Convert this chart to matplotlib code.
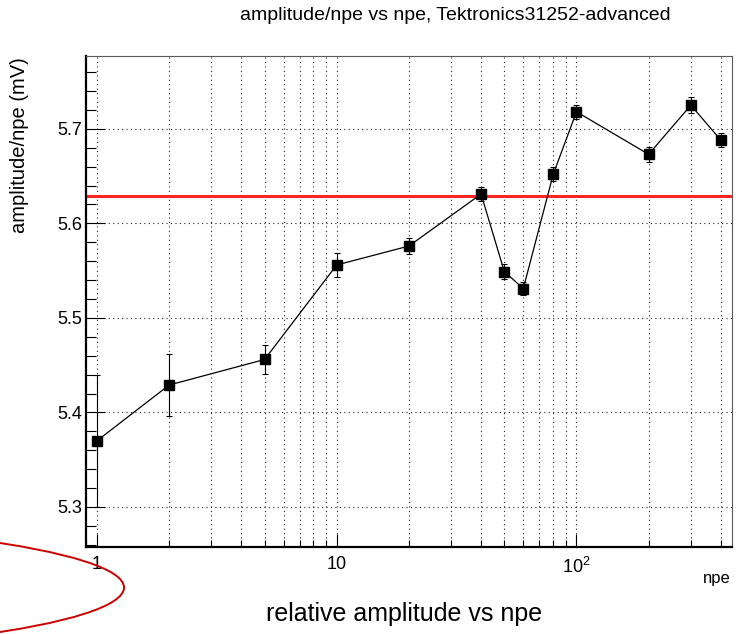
import numpy as np
import matplotlib
matplotlib.use("Agg")
import matplotlib.pyplot as plt
from matplotlib.patches import Ellipse
from matplotlib.ticker import FixedLocator, FixedFormatter, LogLocator, MultipleLocator, NullFormatter

plt.rcParams["font.family"] = ["Liberation Sans", "DejaVu Sans"]
plt.rcParams["mathtext.fontset"] = "custom"
plt.rcParams["mathtext.rm"] = "Liberation Sans"

# values
npe = [1, 2, 5, 10, 20, 40, 50, 60, 80, 100, 200, 300, 400]
amp_per_npe = [5.370, 5.429, 5.456, 5.556, 5.576, 5.631, 5.549, 5.531,
               5.652, 5.718, 5.673, 5.725, 5.688]
amp_err = [0.070, 0.033, 0.015, 0.0125, 0.008, 0.007, 0.0075, 0.0066,
           0.0077, 0.0072, 0.0081, 0.0083, 0.0074]
fit_level = 5.629

x_ticks = [1, 10, 100]
x_ticklabels = ["1", "10", r"$\mathregular{10^{2}}$"]
y_ticks = [5.3, 5.4, 5.5, 5.6, 5.7]

W, H = 739, 634
fig = plt.figure(figsize=(W / 100, H / 100), dpi=100)
ax = fig.add_axes([86 / W, 1 - 546.7 / H, (731.7 - 86) / W, (546.7 - 56) / H])

ax.set_xscale("log")
ax.set_xlim(0.9, 444)
ax.set_ylim(5.258, 5.777)

# dotted grid: every x tick, major y only
grid_kw = dict(color="0.15", lw=0.8, linestyle=(0, (1, 3)), zorder=0)
for v in [m * 10 ** e for e in range(0, 3) for m in range(1, 10)]:
    if 0.9 < v < 444:
        ax.axvline(v, **grid_kw)
for v in y_ticks:
    ax.axhline(v, **grid_kw)

ax.axhline(fit_level, color="#ff2525", lw=2.2, zorder=2)

ax.errorbar(npe, amp_per_npe, yerr=amp_err, color="black", lw=0.9,
            elinewidth=0.8, capsize=2.5, capthick=0.8,
            marker="s", markersize=7.8, zorder=3)

ax.xaxis.set_major_locator(FixedLocator(x_ticks))
ax.xaxis.set_major_formatter(FixedFormatter(x_ticklabels))
ax.xaxis.set_minor_locator(LogLocator(base=10, subs=np.arange(2, 10)))
ax.xaxis.set_minor_formatter(NullFormatter())
ax.yaxis.set_major_locator(FixedLocator(y_ticks))
ax.yaxis.set_minor_locator(MultipleLocator(0.02))

ax.tick_params(axis="both", which="both", direction="in", top=False, right=False,
               width=0.8, labelsize=13)
ax.tick_params(axis="y", which="major", length=13.5, pad=3)
ax.tick_params(axis="y", which="minor", length=7)
ax.tick_params(axis="x", which="major", length=9.5, pad=7)
ax.tick_params(axis="x", which="minor", length=5)

for side in ("left", "bottom"):
    ax.spines[side].set_linewidth(1.6)
    ax.spines[side].set_color("black")
for side in ("top", "right"):
    ax.spines[side].set_linewidth(0.8)
    ax.spines[side].set_color("0.35")

fig.text(455 / W, 1 - 16 / H, "amplitude/npe vs npe, Tektronics31252-advanced",
         ha="center", va="center", fontsize=14)
fig.text(20 / W, 1 - 57 / H, "amplitude/npe (mV)", rotation=90,
         ha="center", va="top", fontsize=14.5)
fig.text(731 / W, 1 - 578 / H, "npe", ha="right", va="center", fontsize=12)
fig.text(404 / W, 1 - 614 / H, "relative amplitude vs npe",
         ha="center", va="center", fontsize=18)

ring = Ellipse((-4.0, (H - 587.5) / 100), 10.48, 1.38, transform=fig.dpi_scale_trans,
               fill=False, edgecolor="#cc0000", lw=1.4, zorder=10)
fig.add_artist(ring)

fig.savefig("out.png", dpi=100, facecolor="white")
